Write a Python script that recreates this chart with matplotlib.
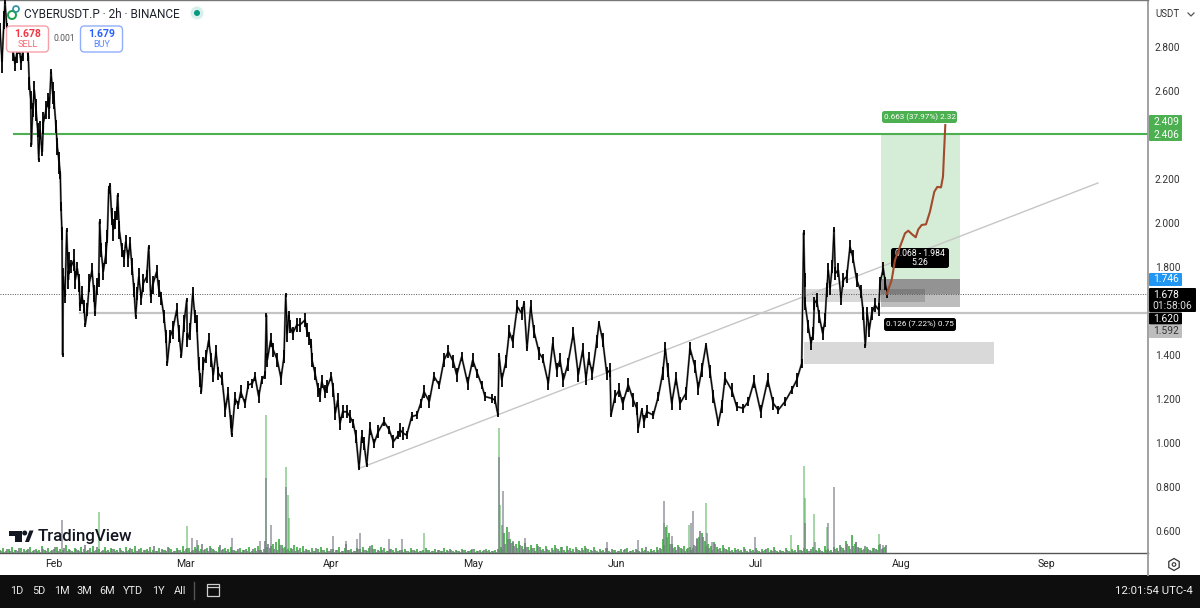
import numpy as np
import matplotlib
matplotlib.use('Agg')
import matplotlib.pyplot as plt
from matplotlib.patches import FancyBboxPatch, Rectangle, Polygon, Circle, RegularPolygon

plt.rcParams['font.family'] = ['Roboto', 'DejaVu Sans']

# time axis: position along the chart, months sit at these positions
month_pos = [54, 185, 331, 473, 617, 756, 901, 1047]
month_names = ['Feb', 'Mar', 'Apr', 'May', 'Jun', 'Jul', 'Aug', 'Sep']
price_ticks = [2.8, 2.6, 2.2, 2.0, 1.8, 1.4, 1.2, 1.0, 0.8, 0.6]

price_t = [
    0, 2, 4, 5, 7, 10, 13, 15, 17, 19, 21, 23, 26, 28.3, 29.3, 30.7, 31.3, 32.7, 34.3, 36, 37.7, 38.7, 40, 42.3, 43.3,
    46, 48.3, 49.3, 51, 52.7, 54, 56, 57.3, 59.3, 60.3, 61, 62, 62.7, 63.3, 65, 66.7, 68.3, 69.3, 71, 74, 75.3, 77.3,
    79.3, 80, 81.7, 84, 85.3, 87.3, 89.3, 92, 94, 95, 96.7, 98.7, 99.7, 101, 103.3, 106, 107.3, 108.7, 110, 111.7,
    113.3, 115, 116.7, 117.7, 119.3, 122, 124, 125.7, 128.3, 130, 132, 134, 135.7, 137.3, 138.7, 141.3, 143.3, 146.7,
    148.7, 150.7, 152.7, 156.7, 158.7, 161.3, 164, 166, 167.3, 170, 172.7, 176.7, 179, 181.3, 184, 186.7, 187.3, 190,
    192.7, 195, 196.7, 198.7, 200, 201.3, 203.3, 206, 208.7, 211.3, 213.3, 216, 218.3, 222, 225.3, 228, 230.7, 231.7,
    235, 238.3, 240.7, 245, 248.3, 252.3, 255, 258.7, 261.7, 265, 266.3, 267.3, 270.7, 273.3, 277.3, 281, 284, 285.7,
    287.3, 288.7, 290, 292.7, 296.7, 299.7, 305, 306.7, 309.3, 311, 312, 315, 318.3, 320, 321.7, 325, 327.3, 331.3,
    333.3, 335.3, 337.7, 340, 342.7, 346.7, 350, 353.3, 356, 359, 361.7, 364, 366.7, 370, 374, 378.3, 384, 389.3,
    393.3, 398.3, 400, 403.3, 406.7, 411.7, 416.7, 420.7, 424, 429.3, 434, 439.3, 444, 448.3, 453.3, 456.7, 461.7,
    467.7, 472.7, 477.3, 481.7, 485, 491.7, 495, 498, 499, 501.7, 506, 509.3, 512.7, 517.3, 521.7, 524, 527, 530.7,
    534, 539.3, 542.7, 548.3, 552.7, 556.7, 560, 563.3, 567.7, 573.3, 578.3, 582.7, 586, 588.7, 592.3, 596.7, 599,
    602.7, 606.7, 610, 611, 615, 619.3, 622.7, 628.3, 633.3, 636.7, 638.3, 641.7, 644, 646.7, 653.3, 658.3, 662.7,
    665.3, 667.7, 671.7, 676, 680, 686, 690, 695, 698.3, 701.7, 706, 710, 713.3, 718.3, 721.7, 725, 731.7, 736.7,
    743.3, 748.3, 754, 760.7, 767.7, 773.3, 778.3, 785, 791.7, 796.7, 801.7, 803.7, 804.7, 805, 808.3, 811, 813.3,
    814.3, 816.7, 819.3, 822.7, 825, 826.7, 828.3, 830, 832.3, 834, 835.3, 838.3, 841, 843.3, 846.7, 850, 852.7,
    856.7, 861, 863.3, 865.3, 867.3, 869.3, 871.7, 875, 878.7, 880, 883.3, 885.3, 887.3,
]
price_val = [
    2.877, 2.732, 2.923, 3.005, 2.877, 2.832, 2.786, 2.723, 2.777, 2.809, 2.727, 2.786, 2.832, 2.756, 2.635, 2.559,
    2.355, 2.514, 2.605, 2.514, 2.423, 2.286, 2.423, 2.324, 2.453, 2.514, 2.559, 2.521, 2.688, 2.589, 2.559, 2.438,
    2.347, 2.271, 2.218, 2.074, 1.953, 1.400, 1.756, 1.665, 1.968, 1.741, 1.817, 1.802, 1.832, 1.741, 1.794, 1.726,
    1.620, 1.673, 1.620, 1.536, 1.605, 1.726, 1.786, 1.680, 1.589, 1.711, 1.741, 2.006, 1.877, 1.779, 1.862, 1.938,
    2.150, 2.173, 2.029, 1.968, 2.014, 2.044, 2.127, 1.968, 1.877, 1.839, 1.915, 1.839, 1.908, 1.802, 1.695, 1.574,
    1.680, 1.756, 1.658, 1.726, 1.756, 1.892, 1.665, 1.718, 1.779, 1.703, 1.658, 1.574, 1.483, 1.362, 1.483, 1.514,
    1.605, 1.498, 1.395, 1.544, 1.650, 1.468, 1.506, 1.680, 1.574, 1.544, 1.362, 1.286, 1.233, 1.362, 1.392, 1.468,
    1.377, 1.309, 1.415, 1.317, 1.294, 1.150, 1.226, 1.097, 1.036, 1.203, 1.173, 1.233, 1.180, 1.264, 1.271, 1.302,
    1.211, 1.286, 1.309, 1.582, 1.377, 1.468, 1.423, 1.377, 1.294, 1.392, 1.673, 1.498, 1.582, 1.529, 1.498, 1.536,
    1.536, 1.559, 1.514, 1.476, 1.453, 1.377, 1.317, 1.241, 1.218, 1.279, 1.233, 1.256, 1.302, 1.241, 1.135, 1.195,
    1.089, 1.142, 1.142, 1.120, 1.089, 1.029, 0.885, 1.029, 0.998, 0.900, 1.067, 0.998, 1.052, 1.097, 1.059, 1.006,
    1.036, 1.059, 1.044, 1.036, 1.120, 1.127, 1.180, 1.233, 1.188, 1.302, 1.264, 1.377, 1.415, 1.370, 1.309, 1.392,
    1.271, 1.377, 1.317, 1.264, 1.211, 1.203, 1.195, 1.127, 1.400, 1.286, 1.370, 1.506, 1.461, 1.620, 1.589, 1.635,
    1.430, 1.620, 1.506, 1.408, 1.385, 1.271, 1.453, 1.332, 1.377, 1.286, 1.355, 1.498, 1.309, 1.423, 1.294, 1.385,
    1.317, 1.461, 1.544, 1.468, 1.317, 1.332, 1.127, 1.211, 1.241, 1.180, 1.264, 1.195, 1.158, 1.067, 1.150, 1.097,
    1.142, 1.127, 1.211, 1.317, 1.430, 1.332, 1.180, 1.294, 1.180, 1.226, 1.430, 1.347, 1.248, 1.332, 1.445, 1.324,
    1.211, 1.089, 1.165, 1.294, 1.241, 1.165, 1.158, 1.188, 1.279, 1.142, 1.286, 1.180, 1.150, 1.188, 1.241, 1.286,
    1.362, 1.956, 1.741, 1.635, 1.529, 1.453, 1.498, 1.635, 1.650, 1.574, 1.498, 1.559, 1.695, 1.786, 1.703, 1.802,
    1.971, 1.771, 1.786, 1.658, 1.741, 1.756, 1.892, 1.847, 1.741, 1.688, 1.589, 1.441, 1.589, 1.514, 1.589, 1.627,
    1.605, 1.726, 1.794, 1.726, 1.680,
]
# rough half height of the candles around each traced point
candle_half = [
    .03, .05, .04, .01, .03, .04, .05, .03, .05, .04, .03, .05, .04, .02, .03, .04,
    .01, .03, .04, .05, .03, .01, .04, .02, .05, .04, .03, .05, .01, .05, .04, .03,
    .04, .05, .02, .02, .03, .01, .04, .03, .01, .04, .05, .03, .05, .04, .03, .04,
    .02, .04, .03, .01, .03, .04, .03, .04, .01, .04, .03, .01, .03, .04, .05, .03,
    .02, .01, .04, .05, .04, .03, .01, .04, .03, .04, .03, .04, .03, .04, .03, .01,
    .03, .04, .03, .04, .03, .01, .03, .04, .03, .04, .03, .03, .03, .01, .03, .04,
    .03, .04, .01, .04, .01, .03, .04, .03, .03, .04, .03, .03, .01, .03, .03, .03,
    .03, .03, .03, .03, .03, .03, .03, .03, .01, .03, .02, .03, .02, .02, .02, .02,
    .03, .02, .02, .01, .03, .03, .03, .03, .03, .03, .01, .04, .02, .03, .03, .03,
    .03, .03, .03, .03, .02, .03, .03, .03, .03, .03, .03, .03, .02, .03, .03, .03,
    .03, .03, .03, .03, .02, .03, .01, .03, .03, .01, .03, .02, .03, .02, .02, .03,
    .02, .03, .03, .02, .02, .02, .02, .03, .03, .02, .02, .03, .03, .03, .03, .02,
    .03, .03, .02, .02, .02, .02, .02, .01, .01, .03, .03, .03, .03, .03, .03, .01,
    .01, .03, .03, .03, .02, .03, .03, .03, .03, .03, .03, .03, .03, .03, .03, .03,
    .03, .03, .01, .03, .03, .03, .01, .03, .03, .03, .03, .03, .03, .02, .01, .03,
    .03, .02, .02, .03, .03, .03, .03, .03, .03, .03, .03, .03, .03, .03, .01, .03,
    .03, .01, .03, .03, .03, .02, .02, .02, .03, .03, .03, .03, .02, .02, .02, .03,
    .02, .01, .03, .03, .03, .03, .03, .03, .03, .03, .03, .03, .03, .03, .03, .03,
    .01, .03, .03, .03, .03, .03, .03, .03, .03, .03, .03, .01, .03, .03, .03, .03,
    .03, .03, .03, .03, .02,
]

forecast_t = [886.7, 891.7, 895, 900, 905, 908.3, 911.7, 915.7, 918.3, 921.7, 926, 930, 934.3, 937.3, 941, 943, 944, 945.3]
forecast_val = [1.677, 1.741, 1.832, 1.892, 1.953, 1.965, 1.950, 1.935, 1.971, 1.991, 1.994, 2.052, 2.142, 2.164,
                2.162, 2.211, 2.317, 2.445]

# volume, arbitrary units
green_floor = [
    3, 5, 2, 4, 6, 3, 2, 5, 4, 3, 6, 2, 4, 3, 7, 3, 5, 2, 4, 6,
    4, 3, 8, 4, 2, 5, 3, 6, 4, 2, 5, 7, 3, 4, 2, 6, 3, 5, 4, 3,
    5, 2, 6, 3, 4, 7, 2, 5, 3, 4, 6, 3, 2, 5, 4, 3, 6, 4, 2, 5,
    3, 7, 4, 5, 2, 6, 8, 4, 3, 5, 7, 4, 2, 6, 3, 5, 4, 6, 3, 2,
    5, 3, 4, 6, 2, 5, 7, 3, 4, 6, 5, 9, 11, 14, 8, 6, 4, 5, 8, 6,
    5, 7, 4, 3, 5, 2, 4, 6, 3, 5, 2, 4, 3, 6, 2, 5, 3, 4, 2, 5,
    4, 6, 3, 5, 8, 4, 3, 6, 5, 2, 4, 3, 5, 2, 3, 4, 2, 5, 3, 4,
    2, 3, 5, 3, 2, 4, 3, 2, 5, 3, 4, 2, 3, 2, 4, 3, 2, 3, 4, 2,
    3, 2, 4, 3, 2, 3, 4, 6, 20, 26, 14, 11, 9, 12, 7, 10, 6, 8, 5, 9,
    6, 4, 7, 3, 5, 8, 4, 6, 3, 7, 5, 4, 6, 3, 5, 7, 4, 3, 6, 2,
    4, 3, 5, 2, 4, 3, 2, 4, 3, 5, 2, 3, 4, 2, 5, 3, 2, 4, 3, 6,
    5, 14, 26, 20, 9, 6, 8, 5, 7, 4, 6, 5, 7, 16, 20, 12, 9, 7, 11, 6,
    5, 8, 4, 6, 3, 5, 4, 3, 6, 2, 4, 3, 5, 2, 4, 3, 5, 3, 6, 2,
    3, 2, 5, 2, 4, 3, 8, 3, 5, 4, 2, 6, 3, 5, 2, 7, 4, 3, 6, 5,
    8, 5, 12, 7, 18, 9, 6, 5, 4, 6, 3, 5, 4, 8, 4, 6,
]
gray_floor = [
    2, 1, 4, 2, 1, 3, 5, 1, 2, 4, 1, 3, 2, 1, 4, 2, 1, 3, 6, 2,
    1, 5, 2, 3, 1, 4, 2, 1, 8, 3, 1, 2, 6, 1, 3, 2, 1, 4, 2, 1,
    3, 1, 2, 5, 1, 2, 4, 1, 3, 2, 1, 7, 2, 1, 3, 2, 5, 1, 2, 3,
    1, 2, 5, 1, 3, 4, 2, 9, 4, 2, 5, 3, 1, 8, 4, 2, 1, 3, 2, 4,
    1, 3, 2, 1, 4, 2, 3, 1, 12, 9, 7, 4, 3, 8, 5, 3, 2, 4, 2, 3,
    1, 2, 3, 1, 2, 5, 1, 3, 1, 2, 4, 1, 3, 1, 2, 9, 3, 1, 2, 4,
    1, 3, 2, 7, 4, 1, 2, 3, 1, 2, 4, 1, 2, 3, 1, 2, 1, 3, 2, 1,
    2, 1, 3, 1, 2, 1, 3, 2, 1, 2, 3, 1, 2, 1, 3, 1, 2, 4, 1, 2,
    1, 3, 2, 1, 2, 1, 3, 4, 9, 14, 10, 7, 5, 8, 4, 6, 3, 5, 2, 7,
    3, 2, 4, 1, 3, 5, 2, 6, 1, 3, 2, 1, 4, 2, 3, 5, 1, 2, 3, 1,
    2, 1, 5, 1, 3, 1, 2, 1, 4, 1, 2, 1, 3, 1, 2, 6, 1, 2, 1, 3,
    4, 8, 16, 9, 5, 3, 6, 4, 2, 5, 3, 8, 14, 22, 16, 7, 5, 3, 9, 4,
    2, 5, 3, 2, 1, 3, 2, 1, 4, 1, 2, 1, 3, 1, 2, 4, 1, 2, 3, 1,
    2, 1, 3, 1, 2, 1, 3, 2, 1, 2, 4, 1, 2, 3, 1, 3, 2, 1, 4, 2,
    6, 3, 9, 4, 7, 11, 5, 3, 7, 4, 2, 5, 3, 9, 5, 8,
]
green_spike_t = [99, 187, 266, 286, 288, 289, 424, 499, 500, 664, 667, 689, 706, 791, 804, 804.7, 814, 827, 879]
green_spike_h = [41, 27, 138, 86, 58, 35, 20, 125, 48, 30, 28, 28, 50, 18, 87, 55, 39, 26, 19]
gray_spike_t = [62, 192, 197, 232, 260, 266, 271, 286, 333, 346, 357, 360, 389, 402, 499, 502, 503, 509, 513, 525,
                607, 638, 664, 672, 691, 693, 697, 707, 712, 755, 805, 815, 828, 834, 856, 883]
gray_spike_h = [33, 15, 13, 15, 12, 75, 28, 66, 17, 12, 14, 20, 14, 14, 96, 28, 62, 21, 12, 15,
                11, 13, 52, 17, 30, 42, 15, 20, 11, 16, 30, 11, 30, 66, 11, 8]

target_price = 2.406
last_price = 1.678
level_price = 1.592
trend_t = [360, 1098]
trend_val = [0.886, 2.182]

GREEN = '#4caf50'
GRAY_VOL = '#787b86'


def main():
    fig = plt.figure(figsize=(12, 6.08), dpi=100, facecolor='white')
    ax = fig.add_axes([0, 55 / 608, 1148 / 1200, 553 / 608])
    ax.set_xlim(0, 1148)
    ax.set_ylim(0.5, 3.0136)

    # position tool
    ax.add_patch(Rectangle((881, 1.746), 79, target_price - 1.746, color='#d5ecd6', lw=0, zorder=1))
    ax.add_patch(Rectangle((881, 1.618), 79, 1.746 - 1.618, color='#bdbdbd', lw=0, zorder=1))
    ax.add_patch(Rectangle((881, last_price), 79, 1.746 - last_price, color='#000000', alpha=0.22, lw=0, zorder=1.1))
    # demand zones
    ax.add_patch(Rectangle((804, 1.641), 121, 1.70 - 1.641, color='#000000', alpha=0.15, lw=0, zorder=1.2))
    ax.add_patch(Rectangle((804, 1.359), 190, 1.459 - 1.359, color='#d9d9d9', lw=0, zorder=1))

    ax.plot([14, 1148], [target_price, target_price], color=GREEN, lw=1.5, zorder=2)
    ax.plot([80, 1148], [level_price, level_price], color='#c4c4c4', lw=1.6, zorder=2)
    ax.axhline(last_price, color='#555555', lw=0.7, ls=(0, (1, 1.5)), zorder=2)
    ax.plot(trend_t, trend_val, color='#c6c6c6', lw=1.0, zorder=2)

    n = len(price_val)
    t = np.array(price_t)
    p = np.array(price_val)
    half = np.array(candle_half[:n])
    ax.plot(t, p, color='#7a7a7a', lw=1.5, zorder=3, solid_joinstyle='miter')
    ax.vlines(t, p - half, p + half, color='#000000', lw=1.3, zorder=3.1)
    ax.plot(t, p, color='#000000', lw=0.8, zorder=3.2, solid_joinstyle='miter')

    # volume pane on the same time axis
    vol = ax.twinx()
    vol.set_ylim(0, 553)
    vol.axis('off')
    floor_t = np.arange(len(green_floor)) * 3
    vol.bar(floor_t, green_floor, width=2.6, color=GREEN, alpha=0.9, lw=0)
    vol.bar(floor_t + 1, gray_floor, width=1.5, color=GRAY_VOL, alpha=0.8, lw=0)
    vol.bar(green_spike_t, green_spike_h, width=1.6, color=GREEN, alpha=0.5, lw=0)
    vol.bar(gray_spike_t, gray_spike_h, width=1.4, color=GRAY_VOL, alpha=0.6, lw=0)

    # twinx moves the ticks of ax to the left, so set them after it
    ax.yaxis.tick_right()
    ax.set_yticks(price_ticks)
    ax.set_yticklabels([f'{v:.3f}' for v in price_ticks], fontsize=7.3, color='#333333')
    ax.set_xticks(month_pos)
    ax.set_xticklabels(month_names, fontsize=7.6, color='#222222')
    ax.tick_params(axis='y', length=0, pad=5)
    ax.tick_params(axis='x', length=0, pad=4.5)
    ax.spines['left'].set_visible(False)
    ax.spines['right'].set_color('#9a9a9a')
    ax.spines['right'].set_linewidth(1.3)
    ax.spines['top'].set_color('#777777')
    ax.spines['top'].set_linewidth(1.0)
    ax.spines['bottom'].set_color('#555555')
    ax.spines['bottom'].set_linewidth(1.0)

    # everything below is chart furniture placed in screen pixels
    ov = fig.add_axes([0, 0, 1, 1], facecolor='none')
    ov.set_xlim(0, 1200)
    ov.set_ylim(608, 0)
    ov.axis('off')

    ov.add_patch(Rectangle((0, 575), 1200, 33, color='#0e0e0e', lw=0))
    ov.plot([1148, 1148], [553, 575], color='#9a9a9a', lw=1.3)
    for label, x in zip(['1D', '5D', '1M', '3M', '6M', 'YTD', '1Y', 'All'], [17, 39, 62, 84, 107, 133, 158, 180]):
        ov.text(x, 590.5, label, color='#e8e8e8', fontsize=7.8, ha='center', va='center')
    ov.plot([194, 194], [582, 599], color='#555555', lw=1)
    ov.add_patch(Rectangle((207, 584), 12, 12, fill=False, ec='#d0d0d0', lw=0.9))
    ov.plot([207, 219], [587, 587], color='#d0d0d0', lw=0.9)
    ov.text(1193, 590.5, '12:01:54 UTC-4', color='#f0f0f0', fontsize=8.2, ha='right', va='center')
    ov.add_patch(RegularPolygon((1174, 564.5), 6, radius=6, fill=False, ec='#333333', lw=0.9))
    ov.add_patch(Circle((1174, 564.5), 1.8, fill=False, ec='#333333', lw=0.8))

    # header
    ov.text(24, 14, 'CYBERUSDT.P · 2h · BINANCE', fontsize=8.5, color='#1e222d', ha='left', va='center')
    ov.add_patch(Circle((12, 15), 4, fill=False, ec='#18a34a', lw=1.4))
    ov.add_patch(Circle((16, 9), 3, fill=False, ec='#2a8f9e', lw=1.2))
    ov.add_patch(Circle((197, 13), 6.5, color='#d9efeb', lw=0))
    ov.add_patch(Circle((197, 13), 3, color='#089981', lw=0))

    for x0, edge, col, px, act in [(6.5, '#f7a0a8', '#f23645', '1.678', 'SELL'), (80.5, '#90aefc', '#2962ff', '1.679', 'BUY')]:
        ov.add_patch(FancyBboxPatch((x0, 26), 42, 26, boxstyle='round,pad=0,rounding_size=4',
                                    fc='white', ec=edge, lw=1.0, zorder=4))
        ov.text(x0 + 21, 34, px, color=col, fontsize=7.6, fontweight='bold', ha='center', va='center', zorder=5)
        ov.text(x0 + 21, 44.5, act, color=col, fontsize=6.6, alpha=0.75, ha='center', va='center', zorder=5)
    ov.text(64, 38.5, '0.001', color='#555555', fontsize=6.2, ha='center', va='center')

    ov.text(1155, 14, 'USDT', fontsize=7, color='#333333', ha='left', va='center')
    ov.plot([1188, 1191, 1194], [13, 16, 13], color='#555555', lw=0.9)

    # tradingview mark
    ov.add_patch(Polygon([(9, 530.5), (22, 530.5), (22, 542), (15, 542), (15, 536), (9, 536)], color='#131722', lw=0))
    ov.add_patch(Circle((24.7, 533), 2.5, color='#131722', lw=0))
    ov.add_patch(Polygon([(25, 542), (29.5, 530.5), (33.5, 530.5), (29, 542)], color='#131722', lw=0))
    ov.text(38, 536.5, 'TradingView', fontsize=12.2, color='#131722', fontweight='medium', ha='left', va='center')

    # drawing labels
    def tag(x0, y0, w, h, fc, text, tc='white', fs=5.9, r=2.5):
        ov.add_patch(FancyBboxPatch((x0, y0), w, h, boxstyle=f'round,pad=0,rounding_size={r}', fc=fc, ec='none', lw=0, zorder=4))
        ov.text(x0 + w / 2, y0 + h / 2, text, color=tc, fontsize=fs, ha='center', va='center', zorder=5, linespacing=1.05)

    tag(882, 111, 75, 12, GREEN, '0.663 (37.97%) 2.32')
    tag(884, 318, 72, 13, '#000000', '0.126 (7.22%) 0.75')
    tag(891, 248, 58, 20, '#000000', '0.068 - 1.984\n5.26', fs=6.2)

    # the forecast runs over the label boxes, so it lives on the top axes with the price scale
    ov.plot(forecast_t, forecast_val, color='#a34a2c', lw=1.5, zorder=6, transform=ax.transData)

    # price scale tags
    tag(1149, 115, 33, 26, GREEN, '', r=1)
    ov.text(1166, 122, '2.409', color='white', fontsize=7.4, ha='center', va='center', zorder=5)
    ov.text(1166, 134.5, '2.406', color='white', fontsize=7.4, ha='center', va='center', zorder=5)
    tag(1149, 273, 33, 13, '#2196f3', '', r=1)
    ov.text(1166, 279.5, '1.746', color='white', fontsize=7.4, ha='center', va='center', zorder=5)
    tag(1149, 288, 47, 24, '#000000', '', r=1)
    ov.text(1166, 294.5, '1.678', color='white', fontsize=7.4, ha='center', va='center', zorder=5)
    ov.text(1172, 306, '01:58:06', color='#dddddd', fontsize=7.4, ha='center', va='center', zorder=5)
    tag(1149, 312.5, 33, 12, '#000000', '', r=1)
    ov.text(1166, 318.5, '1.620', color='white', fontsize=7.4, ha='center', va='center', zorder=5)
    tag(1149, 325, 33, 13, '#bdbdbd', '', r=1)
    ov.text(1166, 331.5, '1.592', color='#333333', fontsize=7.4, ha='center', va='center', zorder=5)

    fig.savefig('out.png', dpi=100)
    plt.close(fig)


if __name__ == '__main__':
    main()
